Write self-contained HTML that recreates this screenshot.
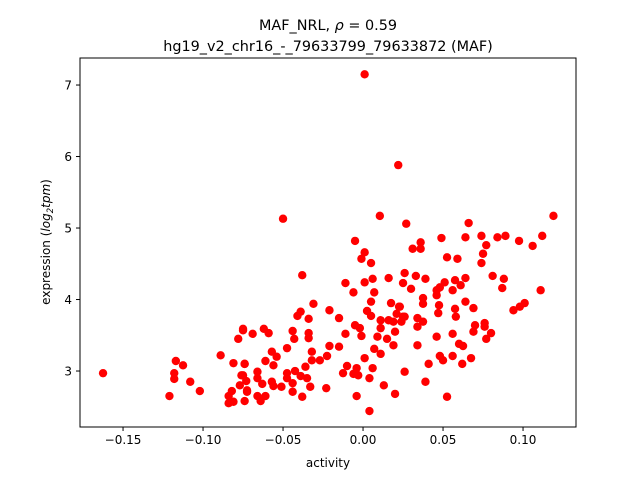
<!DOCTYPE html>
<html><head><meta charset="utf-8"><style>
html,body{margin:0;padding:0;background:#fff;}
svg{display:block;font-family:"DejaVu Sans","Liberation Sans",sans-serif;}
</style></head><body>
<svg id="chart" width="640" height="480" viewBox="0 0 640 480">
<rect width="640" height="480" fill="#fff"/>
<text x="328" y="30" font-size="14.4" text-anchor="middle">MAF_NRL, <tspan font-style="italic">ρ</tspan> = 0.59</text>
<text x="328" y="51" font-size="14.4" text-anchor="middle">hg19_v2_chr16_-_79633799_79633872 (MAF)</text>
<g id="points"></g>
<rect x="80" y="58" width="496" height="369" fill="none" stroke="#000" stroke-width="1"/>
<g id="xaxis"></g>
<g id="yaxis"></g>
<text x="328" y="467" font-size="12" text-anchor="middle">activity</text>
<text transform="translate(50,242) rotate(-90)" font-size="12" text-anchor="middle">expression (<tspan font-style="italic">log</tspan><tspan font-style="italic" font-size="8.5" dy="3">2</tspan><tspan font-style="italic" dy="-3">tpm</tspan>)</text>
</svg>
<script>
const xTicks = [-0.15, -0.10, -0.05, 0.00, 0.05, 0.10];
const xTickLabels = ["−0.15", "−0.10", "−0.05", "0.00", "0.05", "0.10"];
const yTicks = [3, 4, 5, 6, 7];
const yTickLabels = ["3", "4", "5", "6", "7"];
const activity = [
-0.1625,-0.117,-0.1125,-0.118,-0.118,-0.108,-0.102,-0.121,-0.089,-0.081,-0.075,-0.078,-0.074,-0.076,-0.073,-0.077,-0.082,-0.084,-0.081,-0.084,-0.074,-0.0725,
0.001,-0.001,0.005,-0.038,-0.011,0.001,0.006,0.016,0.026,0.025,-0.006,0.007,0.005,-0.031,-0.021,-0.039,-0.041,-0.034,-0.015,0.0025,0.005,0.0175,0.0225,0.021,0.025,0.016,0.011,-0.005,-0.002,0.011,0.019,0.02,
-0.075,-0.069,-0.062,-0.059,-0.044,-0.043,-0.034,-0.034,-0.011,-0.001,0.009,0.015,0.019,-0.0475,-0.021,-0.015,-0.057,-0.054,-0.061,-0.032,-0.032,-0.027,-0.0225,0.007,0.011,0.001,-0.074,-0.056,-0.010,-0.004,-0.0125,-0.006,-0.003,0.006,0.026,-0.036,-0.0425,-0.0475,-0.066,-0.075,-0.066,-0.057,-0.0475,-0.039,-0.035,-0.033,-0.044,-0.051,-0.056,-0.063,-0.044,-0.0725,-0.066,-0.061,-0.064,-0.038,-0.023,0.004,0.013,-0.004,0.02,0.004,
0.119,0.027,0.066,0.049,0.064,0.074,0.084,0.089,0.0975,0.112,0.106,0.077,0.031,0.036,0.036,0.0525,0.059,0.075,0.074,0.033,0.039,0.030,0.051,0.0575,0.061,0.064,0.081,0.088,0.087,0.111,0.046,0.048,0.056,0.046,0.0375,0.0375,0.064,0.0475,0.0575,0.069,0.047,0.058,0.101,0.098,0.094,0.023,0.026,0.024,0.034,0.0375,0.034,0.070,0.076,0.076,0.069,0.080,0.077,0.056,0.046,0.034,0.060,0.0625,0.048,0.050,0.056,0.0675,0.062,0.041,0.039,0.0525,
0.001,0.022,0.0105,-0.05,-0.005
];
const expression = [
2.97,3.14,3.08,2.97,2.89,2.85,2.72,2.65,3.22,3.11,3.57,3.45,3.10,2.94,2.86,2.80,2.72,2.65,2.57,2.55,2.58,2.71,
4.66,4.57,4.51,4.34,4.23,4.24,4.29,4.30,4.37,4.23,4.10,4.10,3.97,3.94,3.85,3.83,3.77,3.73,3.74,3.84,3.77,3.95,3.90,3.80,3.76,3.71,3.71,3.64,3.60,3.60,3.69,3.55,
3.59,3.52,3.59,3.53,3.56,3.45,3.53,3.46,3.52,3.49,3.48,3.45,3.36,3.32,3.35,3.34,3.27,3.20,3.14,3.27,3.15,3.15,3.21,3.31,3.24,3.18,3.10,3.08,3.07,3.04,2.97,2.96,2.94,3.04,2.99,3.06,3.00,2.97,2.99,2.94,2.90,2.85,2.90,2.93,2.90,2.78,2.83,2.78,2.79,2.82,2.71,2.73,2.65,2.65,2.58,2.64,2.76,2.90,2.80,2.65,2.68,2.44,
5.17,5.06,5.07,4.86,4.87,4.89,4.87,4.89,4.82,4.89,4.75,4.76,4.71,4.80,4.71,4.59,4.57,4.64,4.51,4.33,4.29,4.15,4.24,4.27,4.20,4.30,4.33,4.29,4.16,4.13,4.13,4.17,4.13,4.06,4.02,3.94,3.97,3.92,3.87,3.88,3.81,3.76,3.95,3.90,3.85,3.90,3.76,3.69,3.74,3.69,3.62,3.64,3.67,3.62,3.55,3.53,3.45,3.52,3.48,3.36,3.38,3.35,3.21,3.15,3.21,3.18,3.10,3.10,2.85,2.64,
7.15,5.88,5.17,5.13,4.82
];
const X0 = 80, X1 = 576, Y0 = 427, Y1 = 58;
const xMin = -0.1769, xMax = 0.1331, yMin = 2.217, yMax = 7.378;
function xs(v){ return X0 + (v - xMin) / (xMax - xMin) * (X1 - X0); }
function ys(v){ return Y0 - (v - yMin) / (yMax - yMin) * (Y0 - Y1); }
const NS = "http://www.w3.org/2000/svg";
const pg = document.getElementById("points");
for (let i = 0; i < activity.length; i++) {
  const c = document.createElementNS(NS, "circle");
  c.setAttribute("cx", xs(activity[i]));
  c.setAttribute("cy", ys(expression[i]));
  c.setAttribute("r", 4.2);
  c.setAttribute("fill", "#ff0000");
  
  
  pg.appendChild(c);
}
const xg = document.getElementById("xaxis");
xTicks.forEach((t, i) => {
  const x = xs(t);
  const l = document.createElementNS(NS, "line");
  l.setAttribute("x1", x); l.setAttribute("x2", x);
  l.setAttribute("y1", Y0); l.setAttribute("y2", Y0 + 4);
  l.setAttribute("stroke", "#000");
  
  
  xg.appendChild(l);
  const tx = document.createElementNS(NS, "text");
  tx.setAttribute("x", x); tx.setAttribute("y", Y0 + 17);
  tx.setAttribute("font-size", "12"); tx.setAttribute("text-anchor", "middle");
  tx.textContent = xTickLabels[i];
  
  
  xg.appendChild(tx);
});
const yg = document.getElementById("yaxis");
yTicks.forEach((t, i) => {
  const y = ys(t);
  const l = document.createElementNS(NS, "line");
  l.setAttribute("x1", X0 - 4); l.setAttribute("x2", X0);
  l.setAttribute("y1", y); l.setAttribute("y2", y);
  l.setAttribute("stroke", "#000");
  
  
  yg.appendChild(l);
  const tx = document.createElementNS(NS, "text");
  tx.setAttribute("x", X0 - 8); tx.setAttribute("y", y + 4.5);
  tx.setAttribute("font-size", "12"); tx.setAttribute("text-anchor", "end");
  tx.textContent = yTickLabels[i];
  
  
  yg.appendChild(tx);
});
</script>
</body></html>
